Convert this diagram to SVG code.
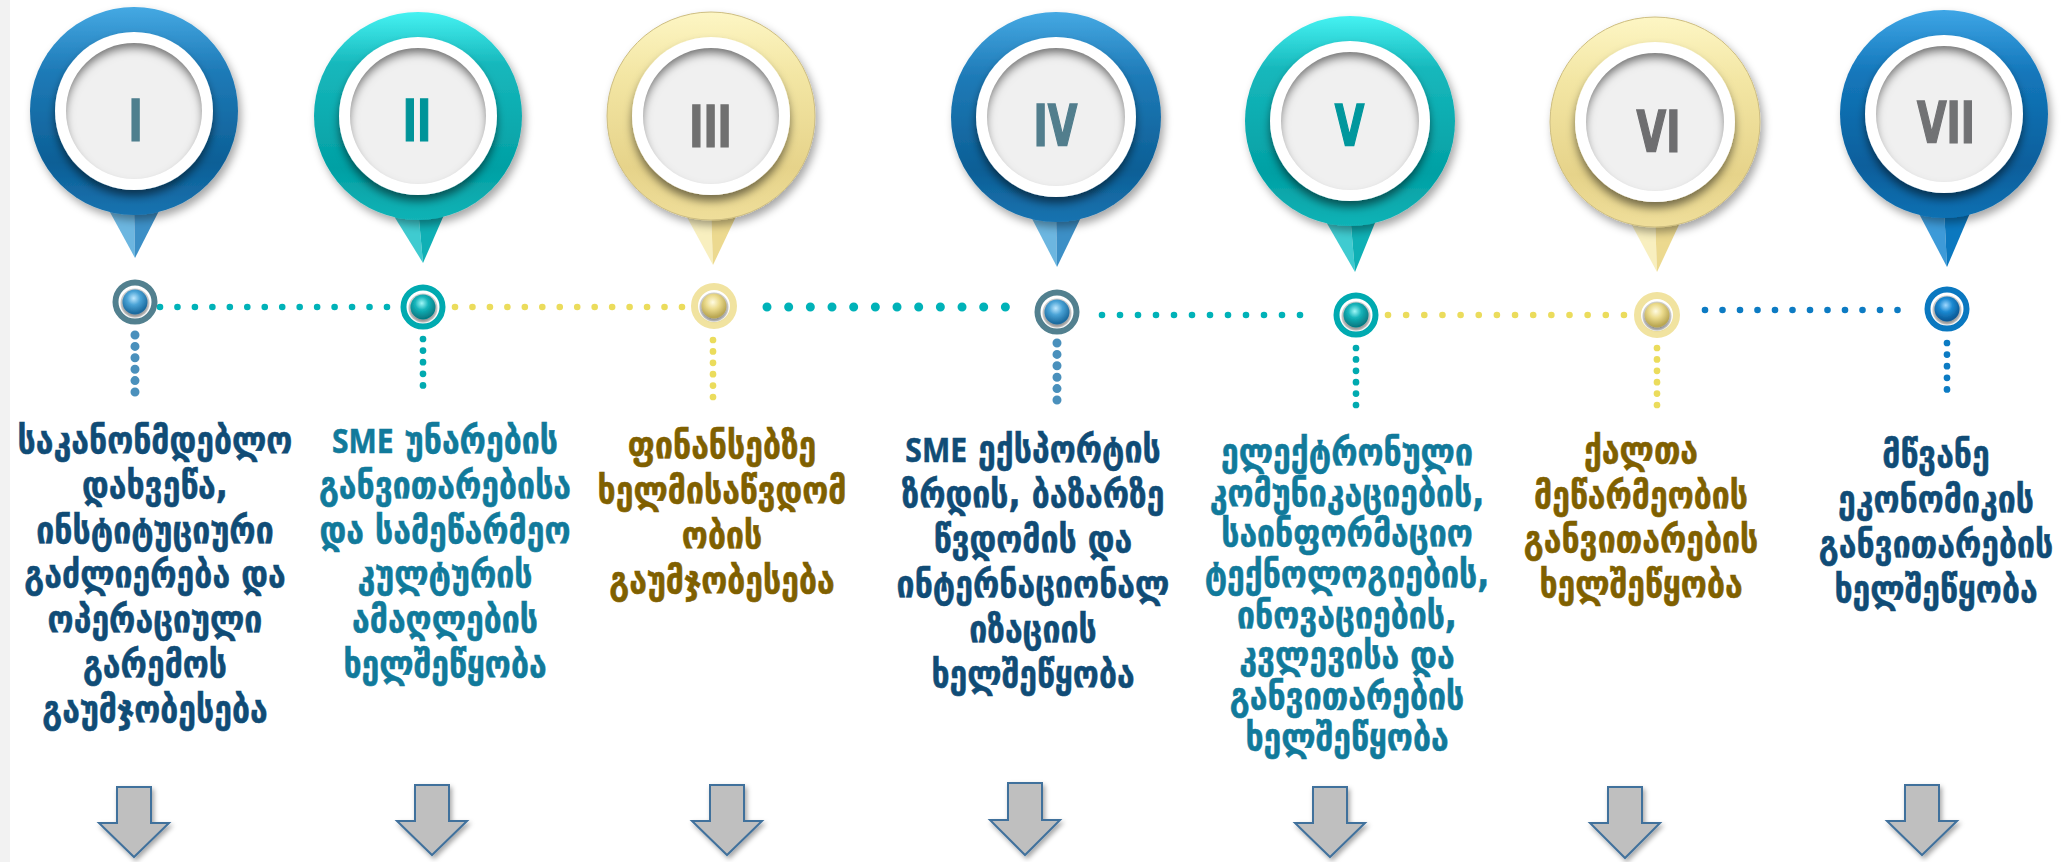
<svg xmlns="http://www.w3.org/2000/svg" width="2071" height="862" viewBox="0 0 2071 862">
<style>
.lbl{font-family:"DejaVu Sans",sans-serif;font-weight:bold;font-size:32px;text-anchor:middle;stroke-width:0.5}
.sme{font-family:"Open Sans","DejaVu Sans",sans-serif;font-size:30px}
.c-dark{fill:#104c76;stroke:#104c76}
.c-teal{fill:#117a9b;stroke:#117a9b}
.c-olive{fill:#7f6000;stroke:#7f6000}
.num{font-family:"Liberation Sans Narrow","DejaVu Sans Condensed",sans-serif;font-weight:bold;font-size:50px;text-anchor:middle;stroke-width:1.3}
.arrow{fill:#bfbfbf;stroke:#41719c;stroke-width:2;filter:url(#arrowSh)}
.inner{fill:#f0f0f0;filter:url(#inset)}
.white{fill:#fff;filter:url(#ringSh)}
.dots{fill:none;stroke-linecap:round}
</style>
<defs>
<linearGradient id="gBlue" x1="0" y1="0" x2="0" y2="1"><stop offset="0" stop-color="#45a9e3"/><stop offset="0.3" stop-color="#1f7bb8"/><stop offset="0.75" stop-color="#0c5f96"/><stop offset="1" stop-color="#1973b0"/></linearGradient>
<linearGradient id="gBlue2" x1="0" y1="0" x2="0" y2="1"><stop offset="0" stop-color="#3ea6e6"/><stop offset="0.3" stop-color="#1477bb"/><stop offset="0.75" stop-color="#075f9c"/><stop offset="1" stop-color="#0e70b2"/></linearGradient>
<linearGradient id="gTeal" x1="0" y1="0" x2="0" y2="1"><stop offset="0" stop-color="#45f2f2"/><stop offset="0.25" stop-color="#17b8bc"/><stop offset="0.75" stop-color="#02a0a4"/><stop offset="1" stop-color="#12b3b6"/></linearGradient>
<linearGradient id="gYel" x1="0" y1="0" x2="0" y2="1"><stop offset="0" stop-color="#fdf6c4"/><stop offset="0.3" stop-color="#f3e6a4"/><stop offset="0.75" stop-color="#e6d38a"/><stop offset="1" stop-color="#efde9a"/></linearGradient>
<radialGradient id="bBlue" cx="0.45" cy="0.35" r="0.6"><stop offset="0" stop-color="#bfe8ff"/><stop offset="0.45" stop-color="#4aa3d6"/><stop offset="1" stop-color="#1b6a9e"/></radialGradient>
<radialGradient id="bBlue2" cx="0.45" cy="0.35" r="0.6"><stop offset="0" stop-color="#9fd8ff"/><stop offset="0.45" stop-color="#1c8ad2"/><stop offset="1" stop-color="#0a5a98"/></radialGradient>
<radialGradient id="bTeal" cx="0.45" cy="0.35" r="0.6"><stop offset="0" stop-color="#9ff7f7"/><stop offset="0.45" stop-color="#14b3b9"/><stop offset="1" stop-color="#067c84"/></radialGradient>
<radialGradient id="bYel" cx="0.45" cy="0.35" r="0.6"><stop offset="0" stop-color="#fffbe2"/><stop offset="0.45" stop-color="#ecdc8e"/><stop offset="1" stop-color="#b9a652"/></radialGradient>
<filter id="pinSh" x="-20%" y="-20%" width="150%" height="150%"><feDropShadow dx="3" dy="5" stdDeviation="4" flood-color="#000" flood-opacity="0.35"/></filter>
<filter id="ringSh" x="-20%" y="-20%" width="140%" height="150%"><feDropShadow dx="0" dy="6" stdDeviation="4" flood-color="#000" flood-opacity="0.5"/></filter>
<filter id="ballSh" x="-40%" y="-40%" width="180%" height="190%"><feDropShadow dx="0" dy="2" stdDeviation="1.5" flood-color="#000" flood-opacity="0.35"/></filter>
<filter id="arrowSh" x="-30%" y="-20%" width="170%" height="150%"><feDropShadow dx="2" dy="3" stdDeviation="2.5" flood-color="#000" flood-opacity="0.35"/></filter>
<filter id="inset" x="-10%" y="-10%" width="120%" height="120%">
<feFlood flood-color="#000" flood-opacity="0.8" result="f"/>
<feComposite in="f" in2="SourceAlpha" operator="out" result="o"/>
<feGaussianBlur in="o" stdDeviation="4" result="b"/>
<feOffset in="b" dy="6" result="bo"/>
<feComposite in="bo" in2="SourceAlpha" operator="in" result="s"/>
<feMerge><feMergeNode in="SourceGraphic"/><feMergeNode in="s"/></feMerge>
</filter>
</defs>
<rect x="0" y="0" width="10" height="862" fill="#f2f2f2"/>

<g id="connectors">
<line class="dots" x1="160" y1="307" x2="387" y2="307" stroke="#00b2b8" stroke-width="6.6" stroke-dasharray="0 17.46"/>
<line class="dots" x1="455" y1="307" x2="682" y2="307" stroke="#ebdc5c" stroke-width="6.6" stroke-dasharray="0 17.46"/>
<line class="dots" x1="767" y1="307" x2="1027" y2="307" stroke="#00b2b8" stroke-width="9" stroke-dasharray="0 21.67"/>
<line class="dots" x1="1102" y1="315" x2="1318" y2="315" stroke="#00b2b8" stroke-width="6.6" stroke-dasharray="0 18"/>
<line class="dots" x1="1388" y1="315" x2="1624" y2="315" stroke="#ebdc5c" stroke-width="6.6" stroke-dasharray="0 18.15"/>
<line class="dots" x1="1705" y1="310" x2="1915" y2="310" stroke="#0c7bc3" stroke-width="6.6" stroke-dasharray="0 17.5"/>
<line class="dots" x1="135" y1="335" x2="135" y2="392" stroke="#4a90bc" stroke-width="9" stroke-dasharray="0 11.4"/>
<line class="dots" x1="423" y1="339" x2="423" y2="397" stroke="#00aab0" stroke-width="6.7" stroke-dasharray="0 11.6"/>
<line class="dots" x1="713" y1="340" x2="713" y2="397" stroke="#ebdc5c" stroke-width="6.7" stroke-dasharray="0 11.4"/>
<line class="dots" x1="1057" y1="343" x2="1057" y2="400" stroke="#4a90bc" stroke-width="9" stroke-dasharray="0 11.4"/>
<line class="dots" x1="1356" y1="348" x2="1356" y2="405" stroke="#00aab0" stroke-width="6.7" stroke-dasharray="0 11.4"/>
<line class="dots" x1="1657" y1="348" x2="1657" y2="405" stroke="#ebdc5c" stroke-width="6.7" stroke-dasharray="0 11.4"/>
<line class="dots" x1="1947" y1="343" x2="1947" y2="401" stroke="#0c7bc3" stroke-width="6.7" stroke-dasharray="0 11.6"/>
</g>

<!-- Step I -->
<g id="step-1">
<g transform="translate(134,111)">
<polygon points="-29,92 0,92 1,147" fill="#6cb6e0"/><polygon points="0,92 29,92 1,147" fill="#3c8fc6"/>
<circle r="104" fill="url(#gBlue)" filter="url(#pinSh)"/>
<circle r="79" class="white"/>
<circle r="68" class="inner"/>
</g>
<g transform="translate(135.5,141) scale(0.85,1.15)"><text class="num" fill="#4e7f8e" stroke="#4e7f8e">I</text></g>
<g transform="translate(135,302)">
<circle r="19.5" fill="#fff" stroke="#52808f" stroke-width="6"/>
<circle r="14.5" fill="#d0d0d0" cy="1"/>
<circle r="12.5" fill="url(#bBlue)" filter="url(#ballSh)"/>
</g>
<g transform="translate(155,453) scale(1,1.15)"><text class="lbl c-dark"><tspan x="0" y="0">საკანონმდებლო</tspan><tspan x="0" dy="38.96">დახვეწა,</tspan><tspan x="0" dy="38.96">ინსტიტუციური</tspan><tspan x="0" dy="38.96">გაძლიერება და</tspan><tspan x="0" dy="38.96">ოპერაციული</tspan><tspan x="0" dy="38.96">გარემოს</tspan><tspan x="0" dy="38.96">გაუმჯობესება</tspan></text></g>
<polygon class="arrow" points="117,787 151,787 151,823 169,823 134,857 99,823 117,823"/>
</g>

<!-- Step II -->
<g id="step-2">
<g transform="translate(418,116)">
<polygon points="-29,92 0,92 5,147" fill="#3fcbd0"/><polygon points="0,92 29,92 5,147" fill="#0fb0b5"/>
<circle r="104" fill="url(#gTeal)" filter="url(#pinSh)"/>
<circle r="79" class="white"/>
<circle r="68" class="inner"/>
</g>
<g transform="translate(417,141) scale(0.85,1.15)"><text class="num" fill="#009499" stroke="#009499">II</text></g>
<g transform="translate(423,307)">
<circle r="19.5" fill="#fff" stroke="#00aab0" stroke-width="6"/>
<circle r="14.5" fill="#d0d0d0" cy="1"/>
<circle r="12.5" fill="url(#bTeal)" filter="url(#ballSh)"/>
</g>
<g transform="translate(445,453) scale(1,1.15)"><text class="lbl c-teal"><tspan x="0" y="0"><tspan class="sme">SME</tspan> უნარების</tspan><tspan x="0" dy="38.96">განვითარებისა</tspan><tspan x="0" dy="38.96">და სამეწარმეო</tspan><tspan x="0" dy="38.96">კულტურის</tspan><tspan x="0" dy="38.96">ამაღლების</tspan><tspan x="0" dy="38.96">ხელშეწყობა</tspan></text></g>
<polygon class="arrow" points="415,785 449,785 449,821 467,821 432,855 397,821 415,821"/>
</g>

<!-- Step III -->
<g id="step-3">
<g transform="translate(711,116)">
<polygon points="-29,92 0,92 2,149" fill="#f8efbf"/><polygon points="0,92 29,92 2,149" fill="#ecd98f"/>
<circle r="104" fill="url(#gYel)" stroke="#cdbd80" stroke-width="1" filter="url(#pinSh)"/>
<circle r="79" class="white"/>
<circle r="68" class="inner"/>
</g>
<g transform="translate(710.5,147) scale(0.85,1.15)"><text class="num" fill="#707070" stroke="#707070">III</text></g>
<g transform="translate(714,306)">
<circle r="19.5" fill="#fff" stroke="#f1e3a0" stroke-width="7"/>
<circle r="14.5" fill="#d0d0d0" cy="1"/>
<circle r="12.5" fill="url(#bYel)" filter="url(#ballSh)"/>
</g>
<g transform="translate(722,458) scale(1,1.15)"><text class="lbl c-olive"><tspan x="0" y="0">ფინანსებზე</tspan><tspan x="0" dy="39.13">ხელმისაწვდომ</tspan><tspan x="0" dy="39.13">ობის</tspan><tspan x="0" dy="39.13">გაუმჯობესება</tspan></text></g>
<polygon class="arrow" points="710,785 744,785 744,821 762,821 727,855 692,821 710,821"/>
</g>

<!-- Step IV -->
<g id="step-4">
<g transform="translate(1056,117)">
<polygon points="-29,92 0,92 1,150" fill="#6cb6e0"/><polygon points="0,92 29,92 1,150" fill="#3c8fc6"/>
<circle r="105" fill="url(#gBlue)" filter="url(#pinSh)"/>
<circle r="80" class="white"/>
<circle r="69" class="inner"/>
</g>
<g transform="translate(1055.5,146) scale(0.85,1.15)"><text class="num" fill="#527e8d" stroke="#527e8d">IV</text></g>
<g transform="translate(1057,312)">
<circle r="19.5" fill="#fff" stroke="#52808f" stroke-width="6"/>
<circle r="14.5" fill="#d0d0d0" cy="1"/>
<circle r="12.5" fill="url(#bBlue)" filter="url(#ballSh)"/>
</g>
<g transform="translate(1033,462) scale(1,1.15)"><text class="lbl c-dark"><tspan x="0" y="0"><tspan class="sme">SME</tspan> ექსპორტის</tspan><tspan x="0" dy="39.13">ზრდის, ბაზარზე</tspan><tspan x="0" dy="39.13">წვდომის და</tspan><tspan x="0" dy="39.13">ინტერნაციონალ</tspan><tspan x="0" dy="39.13">იზაციის</tspan><tspan x="0" dy="39.13">ხელშეწყობა</tspan></text></g>
<polygon class="arrow" points="1008,783 1042,783 1042,820 1060,820 1025,855 990,820 1008,820"/>
</g>

<!-- Step V -->
<g id="step-5">
<g transform="translate(1350,121)">
<polygon points="-29,92 0,92 5,151" fill="#3fcbd0"/><polygon points="0,92 29,92 5,151" fill="#0fb0b5"/>
<circle r="105" fill="url(#gTeal)" filter="url(#pinSh)"/>
<circle r="80" class="white"/>
<circle r="69" class="inner"/>
</g>
<g transform="translate(1349.5,146) scale(0.85,1.15)"><text class="num" fill="#00979d" stroke="#00979d">V</text></g>
<g transform="translate(1356,315)">
<circle r="19.5" fill="#fff" stroke="#00aab0" stroke-width="6"/>
<circle r="14.5" fill="#d0d0d0" cy="1"/>
<circle r="12.5" fill="url(#bTeal)" filter="url(#ballSh)"/>
</g>
<g transform="translate(1347,465) scale(1,1.15)"><text class="lbl c-teal"><tspan x="0" y="0">ელექტრონული</tspan><tspan x="0" dy="35.39">კომუნიკაციების,</tspan><tspan x="0" dy="35.39">საინფორმაციო</tspan><tspan x="0" dy="35.39">ტექნოლოგიების,</tspan><tspan x="0" dy="35.39">ინოვაციების,</tspan><tspan x="0" dy="35.39">კვლევისა და</tspan><tspan x="0" dy="35.39">განვითარების</tspan><tspan x="0" dy="35.39">ხელშეწყობა</tspan></text></g>
<polygon class="arrow" points="1313,787 1347,787 1347,823 1365,823 1330,857 1295,823 1313,823"/>
</g>

<!-- Step VI -->
<g id="step-6">
<g transform="translate(1655,122)">
<polygon points="-29,92 0,92 2,150" fill="#f8efbf"/><polygon points="0,92 29,92 2,150" fill="#ecd98f"/>
<circle r="105" fill="url(#gYel)" stroke="#cdbd80" stroke-width="1" filter="url(#pinSh)"/>
<circle r="80" class="white"/>
<circle r="69" class="inner"/>
</g>
<g transform="translate(1658.5,152) scale(0.85,1.15)"><text class="num" fill="#6e6e70" stroke="#6e6e70">VI</text></g>
<g transform="translate(1657,315)">
<circle r="19.5" fill="#fff" stroke="#f1e3a0" stroke-width="7"/>
<circle r="14.5" fill="#d0d0d0" cy="1"/>
<circle r="12.5" fill="url(#bYel)" filter="url(#ballSh)"/>
</g>
<g transform="translate(1641,463) scale(1,1.15)"><text class="lbl c-olive"><tspan x="0" y="0">ქალთა</tspan><tspan x="0" dy="38.87">მეწარმეობის</tspan><tspan x="0" dy="38.87">განვითარების</tspan><tspan x="0" dy="38.87">ხელშეწყობა</tspan></text></g>
<polygon class="arrow" points="1608,787 1642,787 1642,823 1660,823 1625,858 1590,823 1608,823"/>
</g>

<!-- Step VII -->
<g id="step-7">
<g transform="translate(1944,114)">
<polygon points="-29,92 0,92 3,153" fill="#3d9ad8"/><polygon points="0,92 29,92 3,153" fill="#0b78bf"/>
<circle r="104" fill="url(#gBlue2)" filter="url(#pinSh)"/>
<circle r="79" class="white"/>
<circle r="68" class="inner"/>
</g>
<g transform="translate(1946,143) scale(0.85,1.15)"><text class="num" fill="#717274" stroke="#717274">VII</text></g>
<g transform="translate(1947,309)">
<circle r="19.5" fill="#fff" stroke="#0a78c0" stroke-width="6"/>
<circle r="14.5" fill="#d0d0d0" cy="1"/>
<circle r="12.5" fill="url(#bBlue2)" filter="url(#ballSh)"/>
</g>
<g transform="translate(1936,467) scale(1,1.15)"><text class="lbl c-dark"><tspan x="0" y="0">მწვანე</tspan><tspan x="0" dy="39.13">ეკონომიკის</tspan><tspan x="0" dy="39.13">განვითარების</tspan><tspan x="0" dy="39.13">ხელშეწყობა</tspan></text></g>
<polygon class="arrow" points="1905,785 1939,785 1939,821 1957,821 1922,855 1887,821 1905,821"/>
</g>
</svg>
